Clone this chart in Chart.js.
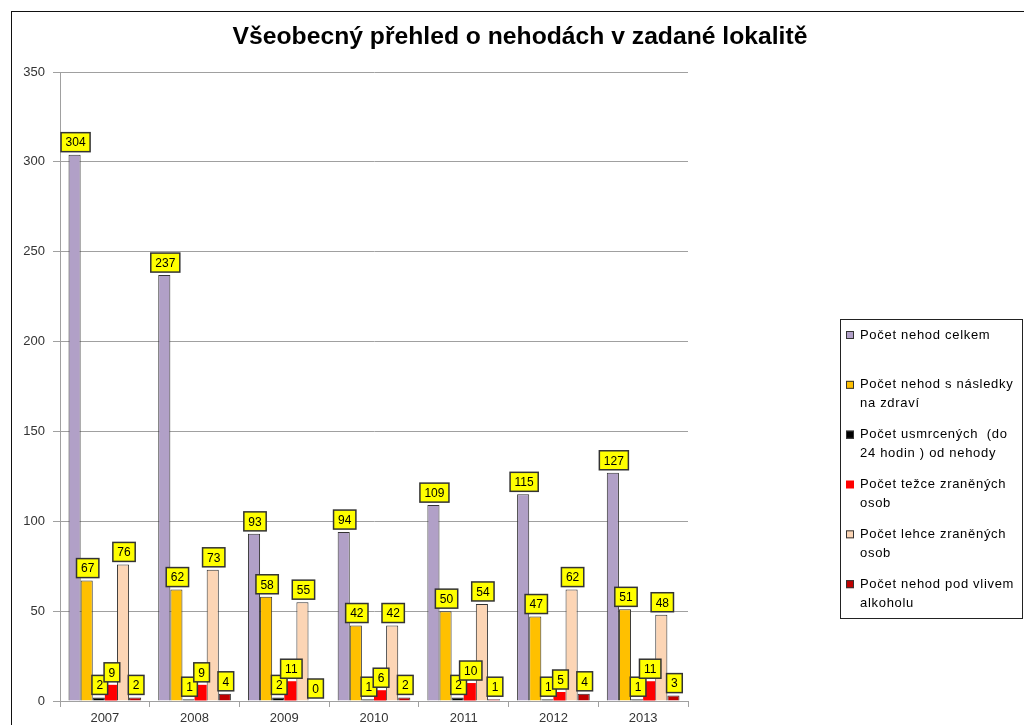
<!DOCTYPE html>
<html>
<head>
<meta charset="utf-8">
<script src="https://cdn.jsdelivr.net/npm/chart.js@4.4.1/dist/chart.umd.min.js"></script>
<style>
  html, body { margin: 0; padding: 0; background: #fff; overflow: hidden; }
  #wrap { position: relative; width: 1024px; height: 725px; }
  #frame { position: absolute; left: 11px; top: 11px; width: 1100px; height: 800px; border: 1.5px solid #111; }
  canvas { position: absolute; left: 0; top: 0; }
</style>
</head>
<body>
<div id="wrap">
  <div id="frame"></div>
  <canvas id="myChart" width="1024" height="725"></canvas>
</div>
<script>
// data
const years = ["2007", "2008", "2009", "2010", "2011", "2012", "2013"];
const celkem = [304, 237, 93, 94, 109, 115, 127];
const sNasledky = [67, 62, 58, 42, 50, 47, 51];
const usmrceni = [2, 1, 2, 1, 2, 1, 1];
const tezce = [9, 9, 11, 6, 10, 5, 11];
const lehce = [76, 73, 55, 42, 54, 62, 48];
const alkohol = [2, 4, 0, 2, 1, 4, 3];

const chartTitle = "Všeobecný přehled o nehodách v zadané lokalitě";
const seriesNames = [
  ["Počet nehod celkem"],
  ["Počet nehod s následky", "na zdraví"],
  ["Počet usmrcených  (do", "24 hodin ) od nehody"],
  ["Počet težce zraněných", "osob"],
  ["Počet lehce zraněných", "osob"],
  ["Počet nehod pod vlivem", "alkoholu"]
];
const seriesColors = ["#B1A0C7", "#FFC000", "#000000", "#FF0000", "#FCD5B5", "#C00000"];
const seriesBorders = [1, 1, 1, 0, 1, 1];

const FONT = "'Liberation Sans', Arial, sans-serif";

// title centred on the whole picture, not just the plot
const bigTitle = {
  id: "bigTitle",
  afterDraw(chart) {
    const ctx = chart.ctx;
    ctx.save();
    ctx.font = "bold 24.7px " + FONT;
    ctx.fillStyle = "#000";
    ctx.textAlign = "center";
    ctx.textBaseline = "middle";
    ctx.fillText(chartTitle, 520, 37);
    ctx.restore();
  }
};

// yellow boxes with the value above every bar
const valueLabels = {
  id: "valueLabels",
  afterDatasetsDraw(chart) {
    const ctx = chart.ctx;
    ctx.save();
    ctx.font = "12px " + FONT;
    ctx.textAlign = "center";
    ctx.textBaseline = "middle";
    chart.data.datasets.forEach((ds, i) => {
      const meta = chart.getDatasetMeta(i);
      meta.data.forEach((bar, j) => {
        const txt = String(ds.data[j]);
        const w = ctx.measureText(txt).width + 9;
        const h = 19;
        const cx = bar.x + 1;
        const bottom = bar.y - 3;
        ctx.fillStyle = "#FFFF00";
        ctx.fillRect(cx - w / 2, bottom - h, w, h);
        ctx.lineWidth = 1.5;
        ctx.strokeStyle = "#333";
        ctx.strokeRect(cx - w / 2, bottom - h, w, h);
        ctx.fillStyle = "#000";
        ctx.fillText(txt, cx, bottom - h / 2 + 1);
      });
    });
    ctx.restore();
  }
};

// legend box on the right, like the excel one
const sideLegend = {
  id: "sideLegend",
  afterDraw(chart) {
    const ctx = chart.ctx;
    const left = 840, top = 319, right = 1022, bottom = 618;
    ctx.save();
    ctx.lineWidth = 1;
    ctx.strokeStyle = "#222";
    ctx.strokeRect(left + 0.5, top + 0.5, right - left, bottom - top);
    ctx.font = "13px " + FONT;
    ctx.letterSpacing = "0.7px";
    ctx.textBaseline = "middle";
    ctx.textAlign = "left";
    const step = (bottom - top) / seriesNames.length;
    seriesNames.forEach((lines, i) => {
      const y = top + 16 + i * step;
      ctx.fillStyle = seriesColors[i];
      ctx.fillRect(846, y - 4, 8, 8);
      if (seriesBorders[i]) {
        ctx.strokeStyle = "#333";
        ctx.strokeRect(846.5, y - 3.5, 7, 7);
      }
      ctx.fillStyle = "#000";
      lines.forEach((t, k) => ctx.fillText(t, 860, y + k * 19));
    });
    ctx.restore();
  }
};

const datasets = [celkem, sNasledky, usmrceni, tezce, lehce, alkohol].map((d, i) => ({
  label: seriesNames[i].join(" "),
  data: d,
  backgroundColor: seriesColors[i],
  borderColor: "#333",
  borderWidth: seriesBorders[i],
  categoryPercentage: 0.81,
  barPercentage: 1.0
}));

new Chart("myChart", {
  type: "bar",
  data: { labels: years, datasets: datasets },
  options: {
    responsive: false,
    animation: false,
    devicePixelRatio: 1,
    layout: { padding: { left: 0, right: 336, top: 72, bottom: 0 } },
    plugins: {
      legend: { display: false },
      tooltip: { enabled: false },
      title: { display: false }
    },
    scales: {
      x: {
        grid: { drawOnChartArea: false, drawTicks: true, tickLength: 6, color: "#A0A0A0", offset: true },
        border: { color: "#A0A0A0" },
        ticks: { color: "#333", font: { family: FONT, size: 13 }, padding: 4 },
        afterFit: (s) => { s.height = 24; }
      },
      y: {
        min: 0,
        max: 350,
        ticks: { stepSize: 50, color: "#333", font: { family: FONT, size: 13 }, padding: 8 },
        grid: { color: "#A0A0A0", tickLength: 7 },
        border: { color: "#A0A0A0" },
        afterFit: (s) => { s.width = 60; }
      }
    }
  },
  plugins: [bigTitle, valueLabels, sideLegend]
});
</script>
</body>
</html>
